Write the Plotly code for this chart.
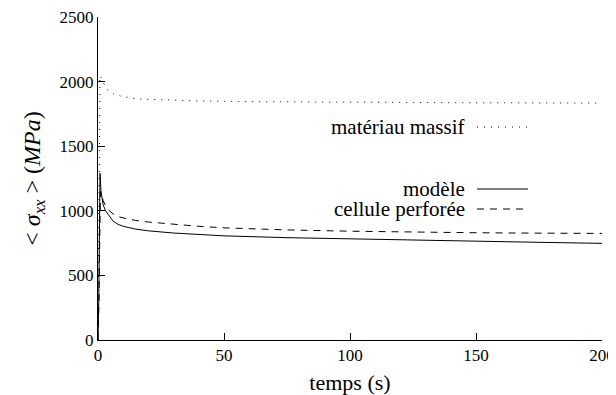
import plotly.graph_objects as go

# temps (s) et contrainte moyenne (MPa)
t_massif = [0, 0.2, 0.4, 0.6, 0.8, 1.5, 2.6, 4, 6.3, 9, 11.5, 14, 17, 22, 25, 40, 60, 100, 150, 200]
sig_massif = [0, 600, 1300, 1800, 2046, 2020, 1974, 1930, 1904, 1888, 1878, 1870, 1865, 1862,
              1858, 1850, 1845, 1840, 1836, 1834]

t_modele = [0, 0.3, 0.6, 0.8, 1.2, 2, 3, 4, 6, 8, 10, 15, 20, 30, 40, 50, 75, 100, 125, 150, 175, 200]
sig_modele = [0, 300, 900, 1290, 1150, 1050, 1000, 970, 920, 895, 880, 858, 845, 828, 815, 806,
              792, 782, 772, 763, 756, 748]

t_cellule = [0, 0.4, 0.7, 1.0, 1.5, 2, 3, 4, 6, 8, 10, 15, 20, 30, 40, 50, 75, 100, 125, 150, 175, 200]
sig_cellule = [0, 300, 800, 1150, 1120, 1080, 1040, 1010, 975, 955, 945, 925, 913, 895, 880, 868,
               852, 842, 835, 830, 827, 825]

x_ticks = [0, 50, 100, 150, 200]
y_ticks = [0, 500, 1000, 1500, 2000, 2500]

FONT = "Times New Roman, Liberation Serif, DejaVu Serif, serif"

fig = go.Figure()

series = [
    (t_massif, sig_massif, "matériau massif", "1px,6px"),
    (t_modele, sig_modele, "modèle", "solid"),
    (t_cellule, sig_cellule, "cellule perforée", "7px,6px"),
]
for t, s, name, dash in series:
    fig.add_trace(
        go.Scatter(
            x=t, y=s, mode="lines", name=name,
            line=dict(color="black", width=1, dash=dash),
            showlegend=False,
        )
    )

# page body has an 8px margin, so the figure sits at (8, 8) in the window
OFF = 8
W, H = 608, 387
L, T = 98 - OFF, 17 - OFF
R, B = W - (602 - OFF), H - (340 - OFF)
pw, ph = W - L - R, H - T - B

# gnuplot-style key: text right-aligned, sample on the right (window pixels)
key_rows = [("matériau massif", "1px,6px", 127), ("modèle", "solid", 189), ("cellule perforée", "7px,6px", 209)]
for name, dash, py in key_rows:
    yp = 1 - (py - OFF - T) / ph
    x0 = (477 - OFF - L) / pw
    x1 = (528 - OFF - L) / pw
    fig.add_annotation(
        x=(467 - OFF - L) / pw, y=yp, xref="paper", yref="paper",
        text=name, showarrow=False, xanchor="right", yanchor="middle",
        font=dict(family=FONT, size=21, color="black"),
    )
    fig.add_shape(
        type="line", xref="paper", yref="paper", x0=x0, x1=x1, y0=yp, y1=yp,
        line=dict(color="black", width=1, dash=dash),
    )

fig.update_layout(
    width=W, height=H,
    margin=dict(l=L, r=R, t=T, b=B),
    plot_bgcolor="white", paper_bgcolor="white",
    font=dict(family=FONT, size=17, color="black"),
    xaxis=dict(
        range=[0, 200], tickvals=x_ticks, showgrid=False, zeroline=False,
        showline=True, linecolor="black", linewidth=1, automargin=False,
        ticks="inside", ticklen=7, tickcolor="black", ticklabeloverflow="allow",
        title=dict(text="temps (s)", standoff=11, font=dict(size=22)),
    ),
    yaxis=dict(
        range=[0, 2500], tickvals=y_ticks, showgrid=False, zeroline=False,
        showline=True, linecolor="black", linewidth=1, automargin=False,
        ticks="inside", ticklen=7, tickcolor="black", ticklabeloverflow="allow",
        title=dict(text="&lt; <i>σ<sub>xx</sub></i> &gt; (<i>MPa</i>)", standoff=12, font=dict(size=24)),
    ),
)

fig.write_html("out.html")
